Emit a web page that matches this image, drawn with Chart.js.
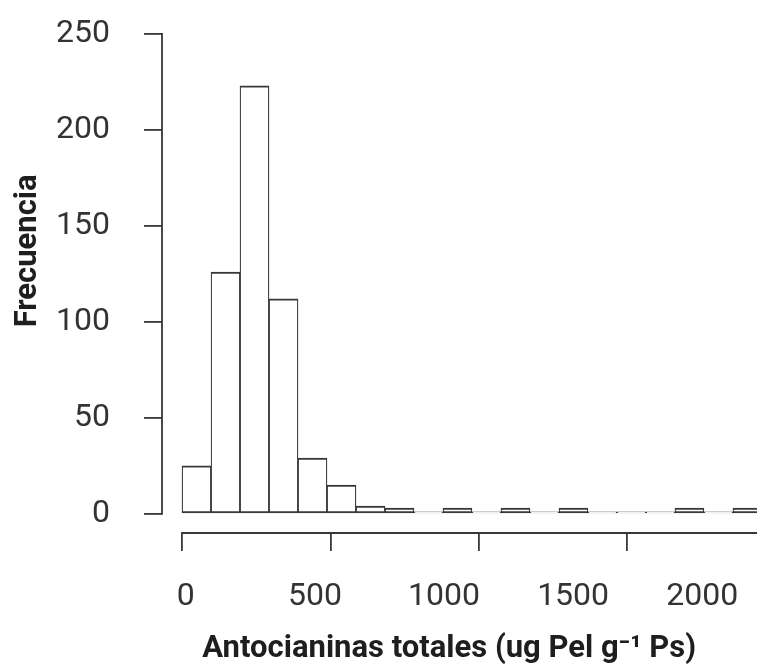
<!DOCTYPE html>
<html>
<head>
<meta charset="utf-8">
<script src="https://cdn.jsdelivr.net/npm/chart.js@4.4.1/dist/chart.umd.min.js"></script>
<style>
  html, body { margin: 0; padding: 0; background: #ffffff; }
  #wrap { width: 757px; height: 666px; position: relative; }
</style>
</head>
<body>
<div id="wrap"><canvas id="c"></canvas></div>
<script>
// ---- data ----
const binStarts = [0, 100, 200, 300, 400, 500, 600, 700, 800, 900, 1000, 1100, 1200, 1300, 1400, 1500, 1600, 1700, 1800, 1900];
const binWidth = 100;
const counts = [25, 126, 223, 112, 29, 15, 4, 3, 1, 3, 1, 3, 1, 3, 1, 1, 1, 3, 1, 3];
const yTickValues = [0, 50, 100, 150, 200, 250];
const xTickValues = [0, 500, 1000, 1500, 2000];
const xTickLabels = ['0', '500', '1000', '1500', '2000'];
const yTitle = 'Frecuencia';
const xTitle = 'Antocianinas totales (ug Pel g\u207B\u00B9 Ps)';

// ---- styles ----
const LINE = '#383838';
const TEXT = '#333333';
const TITLE = '#1e1e1e';
const FONT = 'Roboto';

const points = binStarts.map((s, i) => ({ x: s + binWidth / 2, y: counts[i] }));

const noPad = (s) => { s.paddingLeft = 0; s.paddingRight = 0; s.paddingTop = 0; s.paddingBottom = 0; };

const rAxes = {
  id: 'rAxes',
  afterDraw(chart) {
    const { ctx, chartArea, scales } = chart;
    const y = scales.y, xt = scales.xt, xl = scales.xl;
    ctx.save();
    ctx.strokeStyle = LINE;
    ctx.lineWidth = 1.8;
    ctx.beginPath();
    ctx.moveTo(chartArea.left, y.getPixelForValue(yTickValues[0]) + 0.9);
    ctx.lineTo(chartArea.left, y.getPixelForValue(yTickValues[yTickValues.length - 1]) - 0.9);
    ctx.moveTo(xt.getPixelForValue(xTickValues[0]) - 0.9, chartArea.bottom);
    ctx.lineTo(chartArea.right, chartArea.bottom);
    ctx.stroke();

    ctx.font = 'bold 31px ' + FONT;
    ctx.fillStyle = TITLE;
    ctx.textAlign = 'center';
    ctx.textBaseline = 'alphabetic';
    // x axis title
    ctx.fillText(xTitle, xl.getPixelForValue(1020), xl.bottom - 9);
    // y axis title
    ctx.translate(36, y.getPixelForValue(137));
    ctx.rotate(-Math.PI / 2);
    ctx.fillText(yTitle, 0, 0);
    ctx.restore();
  }
};

new Chart(document.getElementById('c'), {
  type: 'bar',
  data: {
    datasets: [{
      data: points,
      backgroundColor: '#ffffff',
      borderColor: LINE,
      borderWidth: { top: 2, bottom: 2, left: 1.25, right: 1.25 },
      borderSkipped: false,
      categoryPercentage: 1,
      barPercentage: 1,
      xAxisID: 'x',
      yAxisID: 'y'
    }]
  },
  options: {
    responsive: true,
    maintainAspectRatio: false,
    animation: false,
    layout: { padding: { top: 34, right: 0, bottom: 0, left: 0 } },
    plugins: { legend: { display: false }, tooltip: { enabled: false } },
    scales: {
      x: {
        type: 'linear',
        position: 'bottom',
        display: false,
        offset: false,
        grid: { offset: false },
        min: -69,
        max: 1983
      },
      xt: {
        type: 'linear',
        position: 'bottom',
        offset: false,
        min: -67.4,
        max: 1936.6,
        afterBuildTicks: (s) => { s.ticks = xTickValues.map(v => ({ value: v })); },
        afterFit: (s) => { s.height = 18; noPad(s); },
        border: { display: false },
        grid: { offset: false, drawOnChartArea: false, drawTicks: true, tickLength: 18, color: LINE, lineWidth: 1.8 },
        ticks: { display: false }
      },
      xl: {
        type: 'linear',
        position: 'bottom',
        offset: false,
        min: -92.2,
        max: 2212.2,
        afterBuildTicks: (s) => { s.ticks = xTickValues.map(v => ({ value: v })); },
        afterFit: (s) => { s.height = 115; noPad(s); },
        border: { display: false },
        grid: { offset: false, display: false, drawTicks: false },
        ticks: {
          padding: 27,
          maxRotation: 0,
          autoSkip: false,
          color: TEXT,
          font: { family: FONT, size: 32 },
          callback: (v) => xTickLabels[xTickValues.indexOf(v)]
        }
      },
      y: {
        type: 'linear',
        position: 'left',
        min: -10,
        max: 250,
        afterBuildTicks: (s) => { s.ticks = yTickValues.map(v => ({ value: v })); },
        afterFit: (s) => { s.width = 162; noPad(s); },
        border: { display: false },
        grid: { drawOnChartArea: false, drawTicks: true, tickLength: 18, color: LINE, lineWidth: 1.8 },
        ticks: {
          padding: 34,
          color: TEXT,
          font: { family: FONT, size: 32 }
        }
      }
    }
  },
  plugins: [rAxes]
});
</script>
</body>
</html>
